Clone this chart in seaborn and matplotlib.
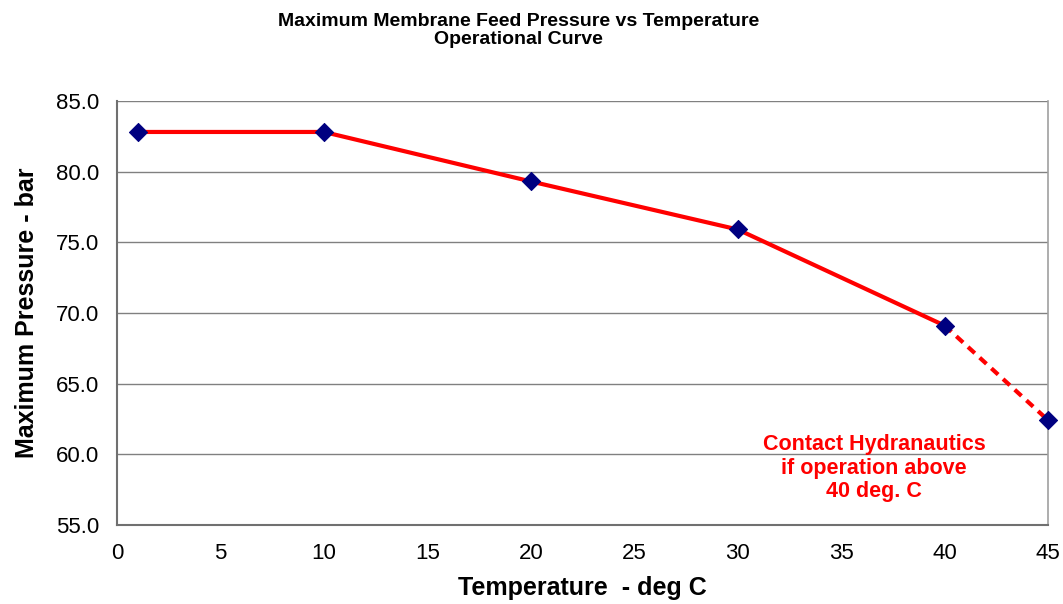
import numpy as np
import pandas as pd
import matplotlib
matplotlib.use("Agg")
import matplotlib.pyplot as plt
import seaborn as sns
from matplotlib.ticker import MultipleLocator, FormatStrFormatter

# values
temps = [1, 10, 20, 30, 40, 45]
pressures = [82.8, 82.8, 79.3, 75.9, 69.1, 62.4]
x_ticks = [0, 5, 10, 15, 20, 25, 30, 35, 40, 45]
y_ticks = [55.0, 60.0, 65.0, 70.0, 75.0, 80.0, 85.0]

df = pd.DataFrame({"temp": temps, "pressure": pressures})
solid = df.iloc[:5]
dashed = df.iloc[4:]

sns.set_style("white")
plt.rcParams['font.family'] = ['Liberation Sans', 'DejaVu Sans']
plt.rcParams['text.color'] = 'black'
plt.rcParams['axes.labelcolor'] = 'black'
plt.rcParams['xtick.labelcolor'] = 'black'
plt.rcParams['ytick.labelcolor'] = 'black'

fig = plt.figure(figsize=(10.63, 6.04), dpi=100)
ax = fig.add_axes([0.110, 0.131, 0.876, 0.702])

sns.lineplot(data=solid, x="temp", y="pressure", ax=ax, color="#ff0000",
             linewidth=3, zorder=3)
sns.lineplot(data=dashed, x="temp", y="pressure", ax=ax, color="#ff0000",
             linewidth=3, linestyle=(0, (2.2, 1.6)), zorder=3)
sns.scatterplot(data=df, x="temp", y="pressure", ax=ax, marker="D", s=85,
                color="#000080", edgecolor="#000080", zorder=4, clip_on=False)

ax.set_xlim(0, 45)
ax.set_ylim(55, 85)
ax.set_xticks(x_ticks)
ax.set_yticks(y_ticks)
ax.yaxis.set_major_formatter(FormatStrFormatter("%.1f"))
ax.yaxis.set_minor_locator(MultipleLocator(1))

ax.grid(axis="y", color="#808080", linewidth=1)
ax.set_axisbelow(True)
for side in ["left", "bottom"]:
    ax.spines[side].set_color("#707070")
    ax.spines[side].set_linewidth(1.5)
ax.spines["right"].set_color("#a0a0a0")
ax.spines["right"].set_linewidth(1.2)
ax.spines["top"].set_visible(False)

ax.tick_params(axis="both", which="major", direction="out", length=7,
               width=1.2, color="#707070", labelsize=16, pad=6)
ax.tick_params(axis="y", which="minor", direction="in", length=5,
               width=1, color="#707070")

ax.set_xlabel("Temperature  - deg C", fontsize=18, fontweight="bold", labelpad=9)
ax.set_ylabel("Maximum Pressure - bar", fontsize=18, fontweight="bold", labelpad=12)

fig.text(0.488, 0.950, "Maximum Membrane Feed Pressure vs Temperature\nOperational Curve",
         ha="center", va="center", fontsize=14, fontweight="bold", linespacing=1.1)

ax.text(36.6, 59.0, "Contact Hydranautics\nif operation above\n40 deg. C",
        ha="center", va="center", color="#ff0000", fontsize=15.5,
        fontweight="bold", linespacing=1.15)

fig.savefig("out.png", dpi=100)
